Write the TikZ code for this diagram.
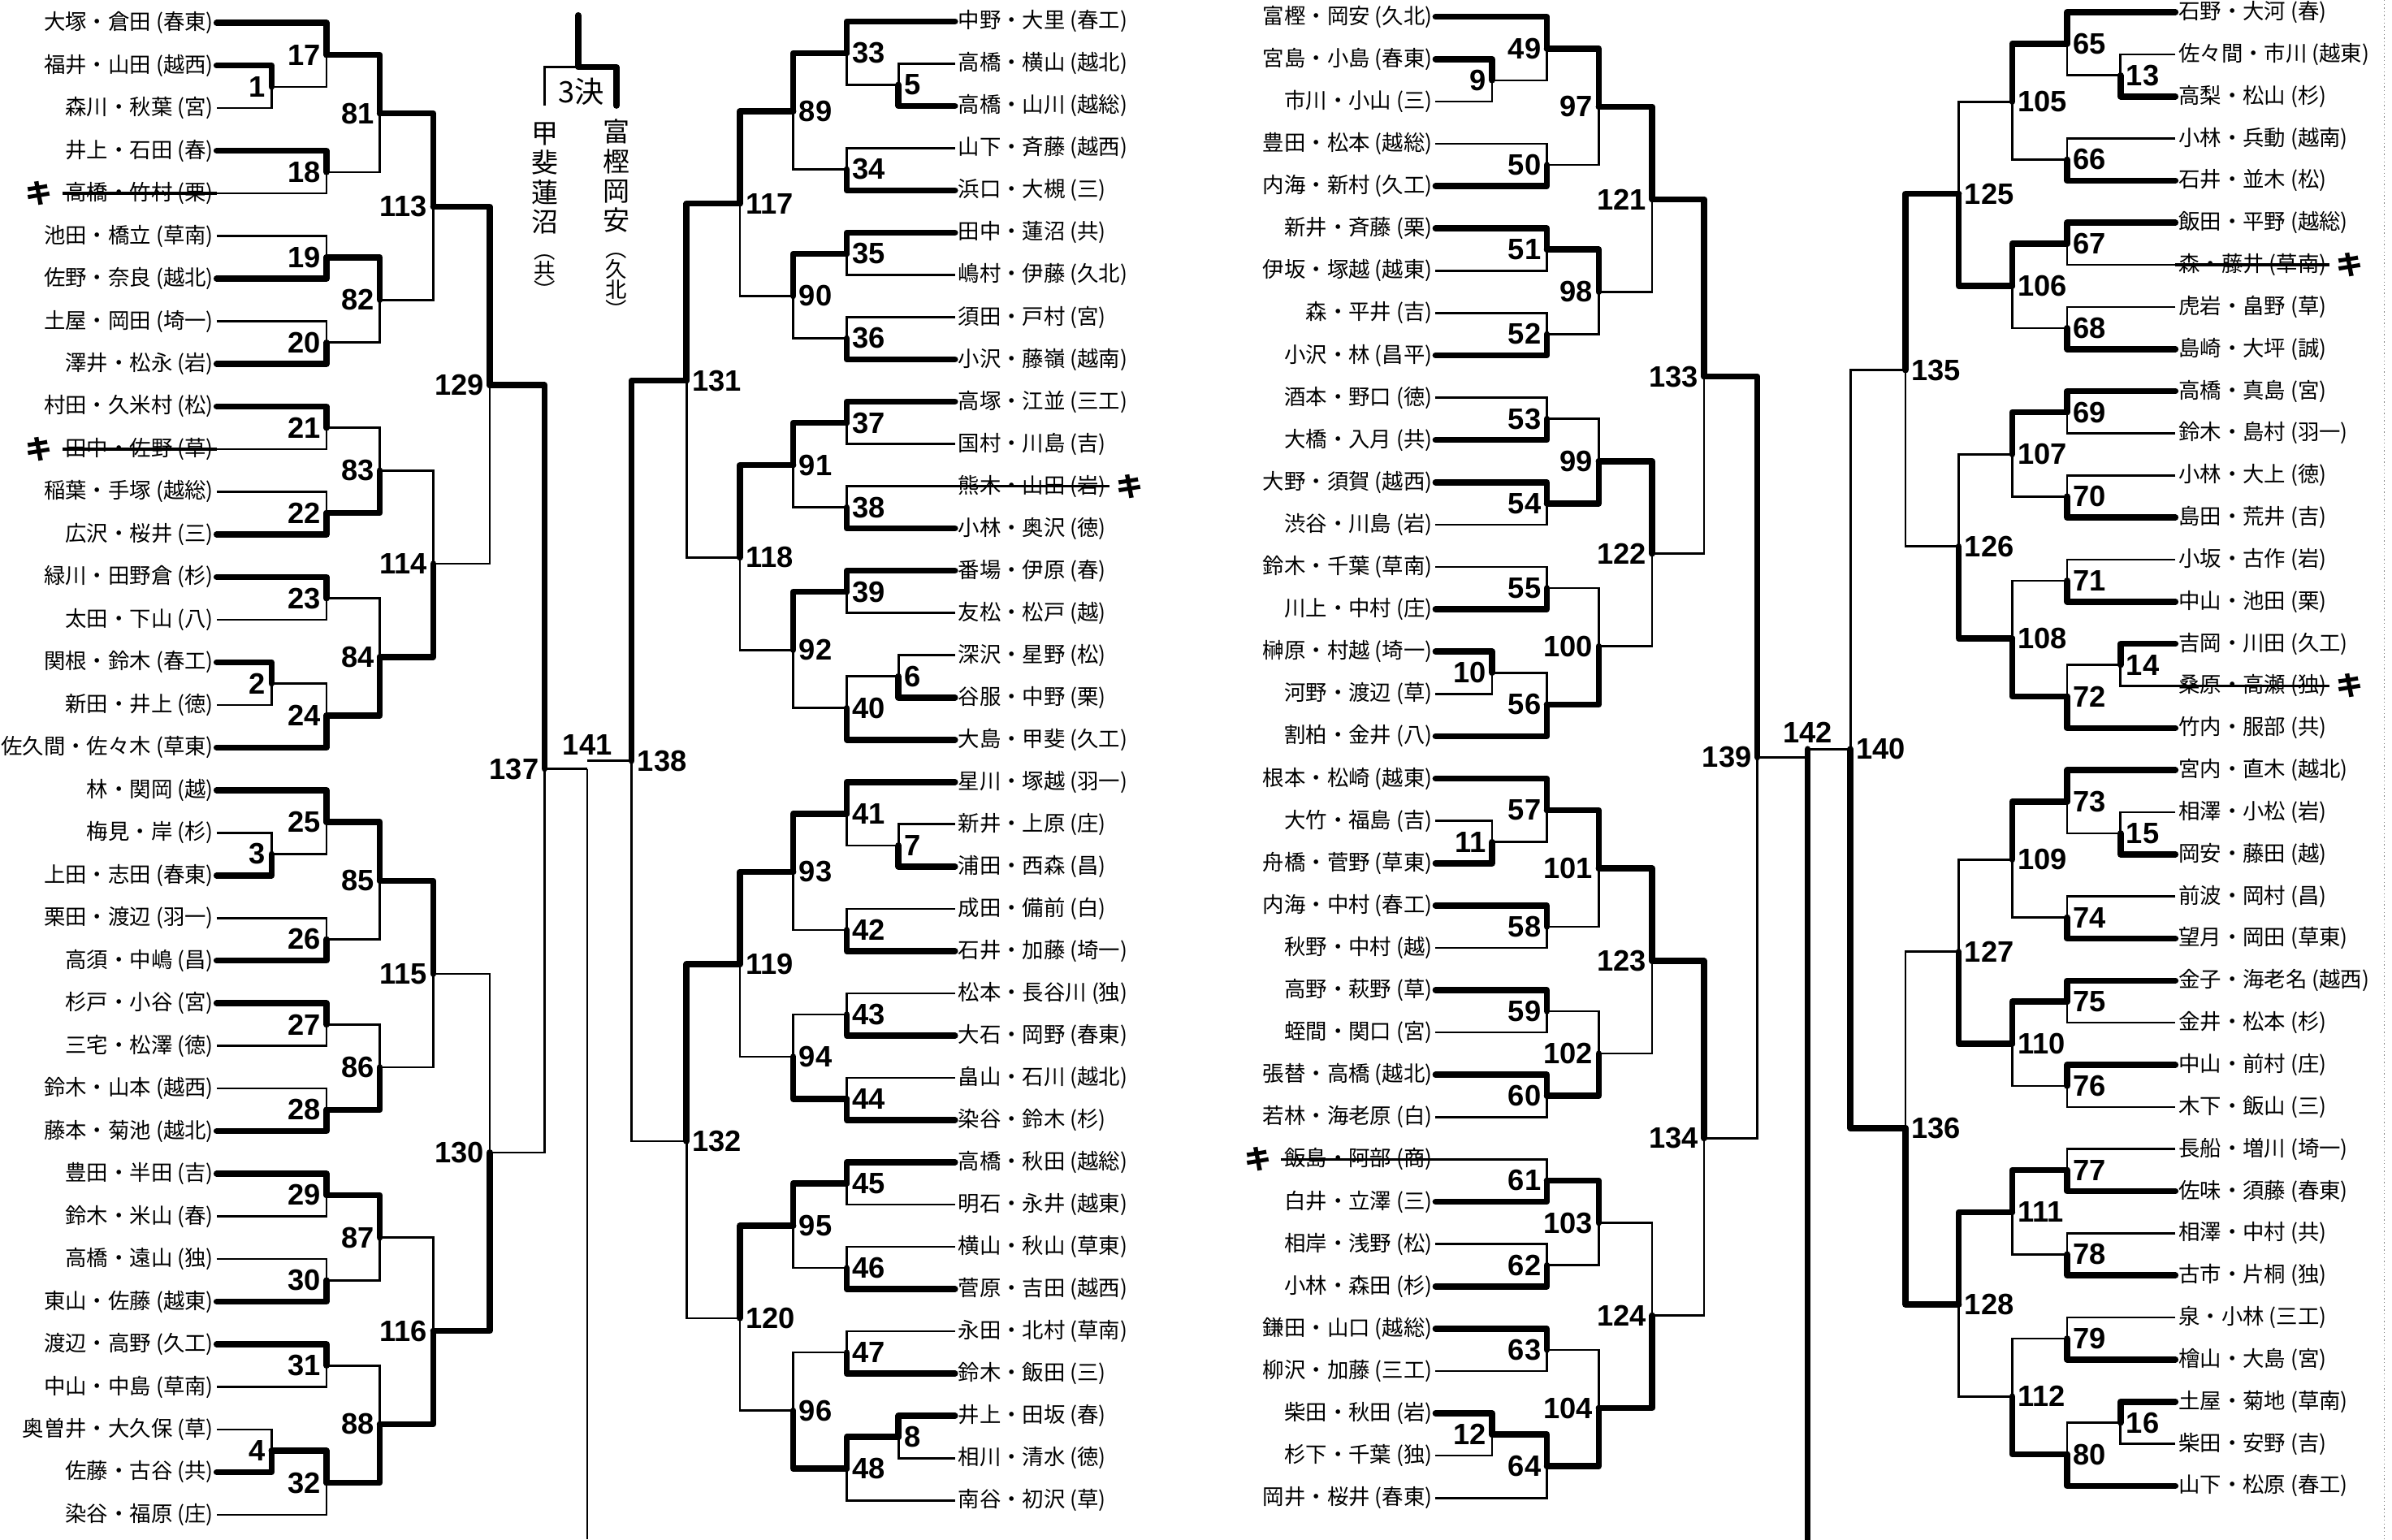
\documentclass[tikz,border=0pt]{standalone}
\usepackage{fontspec}
\newfontfamily\jpfont{Noto Sans CJK JP}
\newfontfamily\numfont{Liberation Sans}
\usetikzlibrary{calc, positioning}

% one bout: id, upper entrant, lower entrant, column of the bracket line, winner (t/b/n), label style
\newcommand\matchup[6]{%
  \path ($(#2)!0.5!(#3)$) coordinate (mid#1);
  \coordinate (m#1) at (#4 |- mid#1);
  \draw[lnthin] (#2) -- (#2 -| #4) -- (#3 -| #4) -- (#3);
  \if t#5\draw[lnwin] (#2) -- (#2 -| #4) -- (m#1);\fi
  \if b#5\draw[lnwin] (#3) -- (#3 -| #4) -- (m#1);\fi
  \node[#6] (lab#1) at (m#1) {#1};
}
\newcommand\vsm[1]{{\fontsize{8}{8}\selectfont #1}}

\begin{document}
\begin{tikzpicture}[x=0.02cm, y=-0.02cm,
    nameL/.style={font=\jpfont\fontsize{8}{9}\selectfont, anchor=east, inner sep=1pt},
    nameR/.style={font=\jpfont\fontsize{8}{9}\selectfont, anchor=west, inner sep=1pt},
    numL/.style={font=\numfont\bfseries\fontsize{11}{11}\selectfont, anchor=east, inner sep=1pt, xshift=-1pt},
    numR/.style={font=\numfont\bfseries\fontsize{11}{11}\selectfont, anchor=west, inner sep=1pt, xshift=1pt},
    numC/.style={font=\numfont\bfseries\fontsize{11}{11}\selectfont, anchor=south, inner sep=2pt},
    lnthin/.style={line width=0.8pt},
    lnwin/.style={line width=2.3pt, line join=round, line cap=round},
    strk/.style={line width=1.1pt},
    kim/.style={font=\jpfont\bfseries\fontsize{10}{10}\selectfont, inner sep=0pt},
    vtext/.style={font=\jpfont\fontsize{10}{11}\selectfont, align=center, inner sep=0pt}
  ]
  \useasboundingbox[fill=white] (0,0) rectangle (1568,1009);

  % bracket columns
  \foreach \r/\xa/\xb/\xc/\xd in {1/178/589/978/1390, 2/214/555/1014/1355, 3/249/520/1048/1319,
                                  4/284/485/1083/1284, 5/321/450/1117/1249, 6/357/414/1152/1213} {
    \coordinate (Ar\r) at (\xa,0);
    \coordinate (Br\r) at (\xb,0);
    \coordinate (Cr\r) at (\xc,0);
    \coordinate (Dr\r) at (\xd,0);
  }

  % entrants
  \foreach \nm [count=\i] in {大塚・倉田 (春東), 福井・山田 (越西), 森川・秋葉 (宮), 井上・石田 (春),
      高橋・竹村 (栗), 池田・橋立 (草南), 佐野・奈良 (越北), 土屋・岡田 (埼一), 澤井・松永 (岩),
      村田・久米村 (松), 田中・佐野 (草), 稲葉・手塚 (越総), 広沢・桜井 (三), 緑川・田野倉 (杉),
      太田・下山 (八), 関根・鈴木 (春工), 新田・井上 (徳), 佐久間・佐々木 (草東), 林・関岡 (越),
      梅見・岸 (杉), 上田・志田 (春東), 栗田・渡辺 (羽一), 高須・中嶋 (昌), 杉戸・小谷 (宮),
      三宅・松澤 (徳), 鈴木・山本 (越西), 藤本・菊池 (越北), 豊田・半田 (吉), 鈴木・米山 (春),
      高橋・遠山 (独), 東山・佐藤 (越東), 渡辺・高野 (久工), 中山・中島 (草南), 奥曽井・大久保 (草),
      佐藤・古谷 (共), 染谷・福原 (庄)}
    \node[nameL] (a\i) at (142, {15+27.94*(\i-1)}) {\nm};

  \foreach \nm [count=\i] in {中野・大里 (春工), 高橋・横山 (越北), 高橋・山川 (越総), 山下・斉藤 (越西),
      浜口・大槻 (三), 田中・蓮沼 (共), 嶋村・伊藤 (久北), 須田・戸村 (宮), 小沢・藤嶺 (越南),
      高塚・江並 (三工), 国村・川島 (吉), 熊木・山田 (岩), 小林・奥沢 (徳), 番場・伊原 (春),
      友松・松戸 (越), 深沢・星野 (松), 谷服・中野 (栗), 大島・甲斐 (久工), 星川・塚越 (羽一),
      新井・上原 (庄), 浦田・西森 (昌), 成田・備前 (白), 石井・加藤 (埼一), 松本・長谷川 (独),
      大石・岡野 (春東), 畠山・石川 (越北), 染谷・鈴木 (杉), 高橋・秋田 (越総), 明石・永井 (越東),
      横山・秋山 (草東), 菅原・吉田 (越西), 永田・北村 (草南), 鈴木・飯田 (三), 井上・田坂 (春),
      相川・清水 (徳), 南谷・初沢 (草)}
    \node[nameR] (b\i) at (626, {14+27.7*(\i-1)}) {\nm};

  \foreach \nm [count=\i] in {富樫・岡安 (久北), 宮島・小島 (春東), 市川・小山 (三), 豊田・松本 (越総),
      内海・新村 (久工), 新井・斉藤 (栗), 伊坂・塚越 (越東), 森・平井 (吉), 小沢・林 (昌平),
      酒本・野口 (徳), 大橋・入月 (共), 大野・須賀 (越西), 渋谷・川島 (岩), 鈴木・千葉 (草南),
      川上・中村 (庄), 榊原・村越 (埼一), 河野・渡辺 (草), 割柏・金井 (八), 根本・松崎 (越東),
      大竹・福島 (吉), 舟橋・菅野 (草東), 内海・中村 (春工), 秋野・中村 (越), 高野・萩野 (草),
      蛭間・関口 (宮), 張替・高橋 (越北), 若林・海老原 (白), 飯島・阿部 (商), 白井・立澤 (三),
      相岸・浅野 (松), 小林・森田 (杉), 鎌田・山口 (越総), 柳沢・加藤 (三工), 柴田・秋田 (岩),
      杉下・千葉 (独), 岡井・桜井 (春東)}
    \node[nameL] (c\i) at (941, {11+27.74*(\i-1)}) {\nm};

  \foreach \nm [count=\i] in {石野・大河 (春), 佐々間・市川 (越東), 高梨・松山 (杉), 小林・兵動 (越南),
      石井・並木 (松), 飯田・平野 (越総), 森・藤井 (草南), 虎岩・畠野 (草), 島崎・大坪 (誠),
      高橋・真島 (宮), 鈴木・島村 (羽一), 小林・大上 (徳), 島田・荒井 (吉), 小坂・古作 (岩),
      中山・池田 (栗), 吉岡・川田 (久工), 桑原・高瀬 (独), 竹内・服部 (共), 宮内・直木 (越北),
      相澤・小松 (岩), 岡安・藤田 (越), 前波・岡村 (昌), 望月・岡田 (草東), 金子・海老名 (越西),
      金井・松本 (杉), 中山・前村 (庄), 木下・飯山 (三), 長船・増川 (埼一), 佐味・須藤 (春東),
      相澤・中村 (共), 古市・片桐 (独), 泉・小林 (三工), 檜山・大島 (宮), 土屋・菊地 (草南),
      柴田・安野 (吉), 山下・松原 (春工)}
    \node[nameR] (d\i) at (1426, {8+27.6*(\i-1)}) {\nm};

  % withdrawn pairs
  \foreach \n in {a5, a11, c28} {
    \draw[strk] (\n.west) -- (\n.east);
    \node[kim, left=0.12cm of \n] (k\n) {キ};
  }
  \foreach \n in {b12, d7, d17} {
    \draw[strk] (\n.west) -- (\n.east);
    \node[kim, right=0.08cm of \n] (k\n) {キ};
  }

  % left page, left half
  \foreach \id/\tp/\bt/\xr/\w in {1/a2/a3/Ar1/t, 2/a16/a17/Ar1/t, 3/a20/a21/Ar1/b, 4/a34/a35/Ar1/b,
      17/a1/m1/Ar2/t, 18/a4/a5/Ar2/t, 19/a6/a7/Ar2/b, 20/a8/a9/Ar2/b,
      21/a10/a11/Ar2/t, 22/a12/a13/Ar2/b, 23/a14/a15/Ar2/t, 24/m2/a18/Ar2/b,
      25/a19/m3/Ar2/t, 26/a22/a23/Ar2/b, 27/a24/a25/Ar2/t, 28/a26/a27/Ar2/b,
      29/a28/a29/Ar2/t, 30/a30/a31/Ar2/b, 31/a32/a33/Ar2/t, 32/m4/a36/Ar2/t,
      81/m17/m18/Ar3/t, 82/m19/m20/Ar3/t, 83/m21/m22/Ar3/b, 84/m23/m24/Ar3/b,
      85/m25/m26/Ar3/t, 86/m27/m28/Ar3/b, 87/m29/m30/Ar3/t, 88/m31/m32/Ar3/b,
      113/m81/m82/Ar4/t, 114/m83/m84/Ar4/b, 115/m85/m86/Ar4/t, 116/m87/m88/Ar4/b,
      129/m113/m114/Ar5/t, 130/m115/m116/Ar5/b, 137/m129/m130/Ar6/t} {
    \edef\doit{\noexpand\matchup{\id}{\tp}{\bt}{\xr}{\w}{numL}}\doit
  }

  % left page, right half
  \foreach \id/\tp/\bt/\xr/\w in {5/b2/b3/Br1/b, 6/b16/b17/Br1/b, 7/b20/b21/Br1/b, 8/b34/b35/Br1/t,
      33/b1/m5/Br2/t, 34/b4/b5/Br2/b, 35/b6/b7/Br2/t, 36/b8/b9/Br2/b,
      37/b10/b11/Br2/t, 38/b12/b13/Br2/b, 39/b14/b15/Br2/t, 40/m6/b18/Br2/b,
      41/b19/m7/Br2/t, 42/b22/b23/Br2/b, 43/b24/b25/Br2/b, 44/b26/b27/Br2/b,
      45/b28/b29/Br2/t, 46/b30/b31/Br2/b, 47/b32/b33/Br2/b, 48/m8/b36/Br2/t,
      89/m33/m34/Br3/t, 90/m35/m36/Br3/t, 91/m37/m38/Br3/t, 92/m39/m40/Br3/t,
      93/m41/m42/Br3/t, 94/m43/m44/Br3/b, 95/m45/m46/Br3/t, 96/m47/m48/Br3/b,
      117/m89/m90/Br4/t, 118/m91/m92/Br4/t, 119/m93/m94/Br4/t, 120/m95/m96/Br4/t,
      131/m117/m118/Br5/t, 132/m119/m120/Br5/t, 138/m131/m132/Br6/t} {
    \edef\doit{\noexpand\matchup{\id}{\tp}{\bt}{\xr}{\w}{numR}}\doit
  }

  % right page, left half
  \foreach \id/\tp/\bt/\xr/\w in {9/c2/c3/Cr1/t, 10/c16/c17/Cr1/t, 11/c20/c21/Cr1/b, 12/c34/c35/Cr1/t,
      49/c1/m9/Cr2/t, 50/c4/c5/Cr2/b, 51/c6/c7/Cr2/t, 52/c8/c9/Cr2/b,
      53/c10/c11/Cr2/b, 54/c12/c13/Cr2/t, 55/c14/c15/Cr2/b, 56/m10/c18/Cr2/b,
      57/c19/m11/Cr2/t, 58/c22/c23/Cr2/t, 59/c24/c25/Cr2/t, 60/c26/c27/Cr2/t,
      61/c28/c29/Cr2/b, 62/c30/c31/Cr2/b, 63/c32/c33/Cr2/t, 64/m12/c36/Cr2/t,
      97/m49/m50/Cr3/t, 98/m51/m52/Cr3/t, 99/m53/m54/Cr3/b, 100/m55/m56/Cr3/b,
      101/m57/m58/Cr3/t, 102/m59/m60/Cr3/b, 103/m61/m62/Cr3/t, 104/m63/m64/Cr3/b,
      121/m97/m98/Cr4/t, 122/m99/m100/Cr4/t, 123/m101/m102/Cr4/t, 124/m103/m104/Cr4/b,
      133/m121/m122/Cr5/t, 134/m123/m124/Cr5/t, 139/m133/m134/Cr6/t} {
    \edef\doit{\noexpand\matchup{\id}{\tp}{\bt}{\xr}{\w}{numL}}\doit
  }

  % right page, right half
  \foreach \id/\tp/\bt/\xr/\w in {13/d2/d3/Dr1/b, 14/d16/d17/Dr1/t, 15/d20/d21/Dr1/b, 16/d34/d35/Dr1/t,
      65/d1/m13/Dr2/t, 66/d4/d5/Dr2/b, 67/d6/d7/Dr2/t, 68/d8/d9/Dr2/b,
      69/d10/d11/Dr2/t, 70/d12/d13/Dr2/b, 71/d14/d15/Dr2/b, 72/m14/d18/Dr2/b,
      73/d19/m15/Dr2/t, 74/d22/d23/Dr2/b, 75/d24/d25/Dr2/t, 76/d26/d27/Dr2/t,
      77/d28/d29/Dr2/b, 78/d30/d31/Dr2/b, 79/d32/d33/Dr2/b, 80/m16/d36/Dr2/b,
      105/m65/m66/Dr3/t, 106/m67/m68/Dr3/t, 107/m69/m70/Dr3/t, 108/m71/m72/Dr3/b,
      109/m73/m74/Dr3/t, 110/m75/m76/Dr3/t, 111/m77/m78/Dr3/t, 112/m79/m80/Dr3/b,
      125/m105/m106/Dr4/b, 126/m107/m108/Dr4/b, 127/m109/m110/Dr4/b, 128/m111/m112/Dr4/t,
      135/m125/m126/Dr5/t, 136/m127/m128/Dr5/b, 140/m135/m136/Dr6/b} {
    \edef\doit{\noexpand\matchup{\id}{\tp}{\bt}{\xr}{\w}{numR}}\doit
  }

  % finals
  \coordinate (x141) at (385,0);
  \coordinate (bot141) at (385,1009);
  \draw[lnthin] (m137) -- (x141 |- m137);
  \draw[lnthin] (m138) -- (x141 |- m138);
  \node[numC] (lab141) at (x141 |- m138) {141};
  \draw[lnthin] (x141 |- m137) -- (bot141);

  \coordinate (x142) at (1185,0);
  \coordinate (bot142) at (1185,1009);
  \draw[lnthin] (m139) -- (x142 |- m139);
  \draw[lnthin] (m140) -- (x142 |- m140);
  \node[numC] (lab142) at (x142 |- m140) {142};
  \draw[lnwin] (x142 |- m140) -- (bot142);

  % 3rd place
  \node[vtext, anchor=north] (semiL) at (357,80)
       {甲\\斐\\蓮\\沼\\[-1pt]\vsm{︵}\\[-3.5pt]\vsm{共}\\[-3.5pt]\vsm{︶}};
  \node[vtext, anchor=north] (semiR) at (404,78)
       {富\\樫\\岡\\安\\[-1pt]\vsm{︵}\\[-3.5pt]\vsm{久}\\[-3.5pt]\vsm{北}\\[-3.5pt]\vsm{︶}};
  \node[font=\jpfont\fontsize{11}{11}\selectfont, inner sep=0pt] (third) at (381,60) {3決};
  \coordinate (thirdtop) at (379,10);
  \coordinate (j3) at (379,44);
  \draw[lnthin] (semiL.north |- third.south) -- (semiL.north |- j3) -- (semiR.north |- j3);
  \draw[lnwin] (thirdtop) -- (j3) -- (semiR.north |- j3) -- (semiR.north |- third.south);

  % page edge
  \coordinate (edgeT) at (1563,0);
  \coordinate (edgeB) at (1563,1009);
  \draw[densely dotted, gray] (edgeT) -- (edgeB);
\end{tikzpicture}
\end{document}
